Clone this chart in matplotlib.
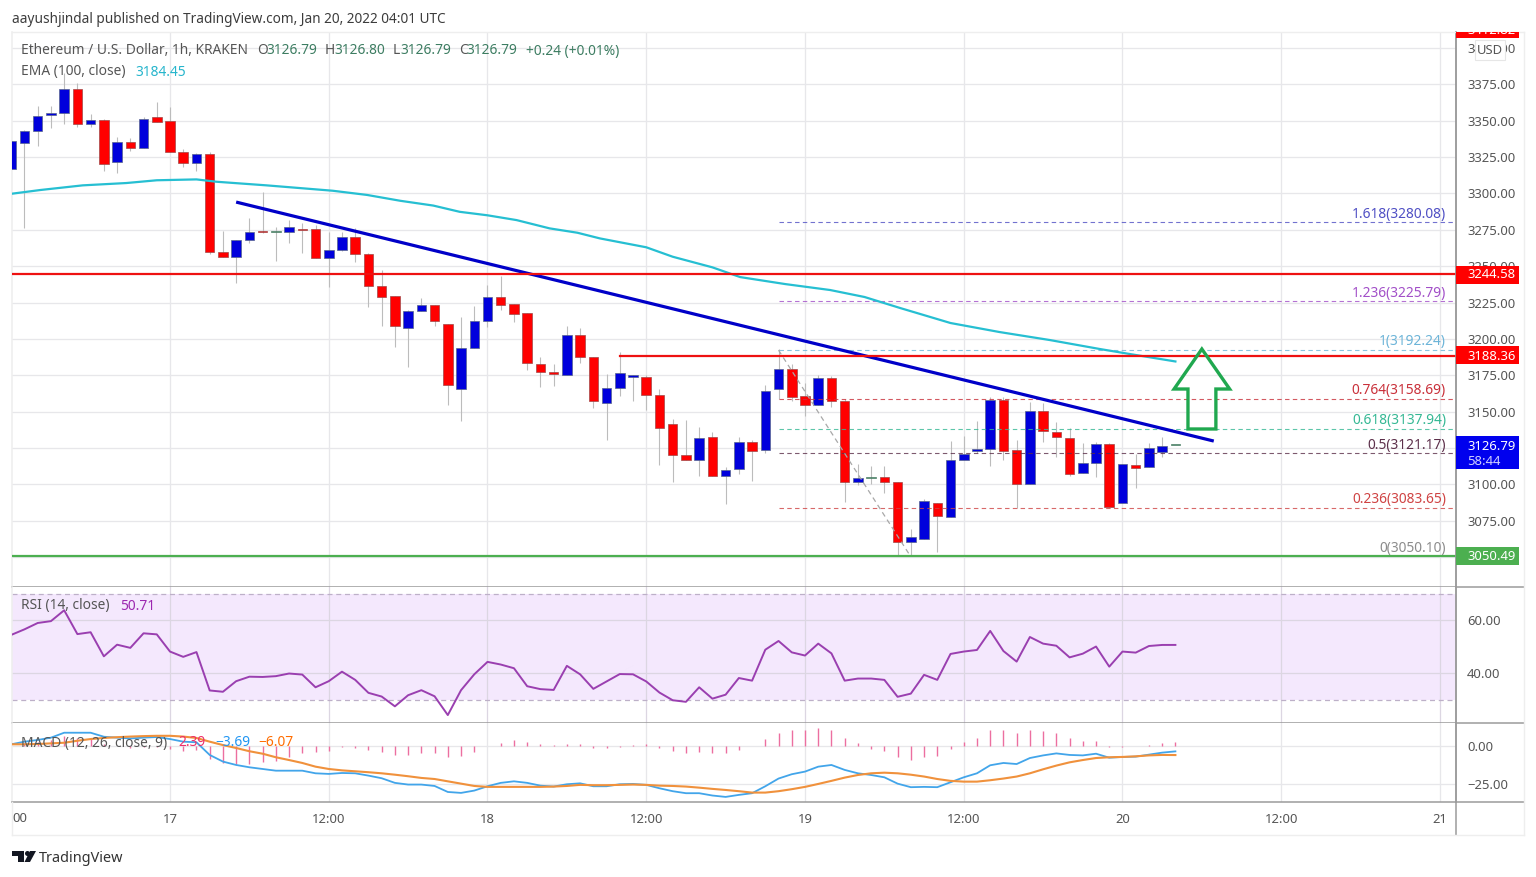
import matplotlib
matplotlib.use("Agg")
import matplotlib.pyplot as plt
from matplotlib.patches import Rectangle, Polygon, Circle

plt.rcParams['font.family'] = ['Noto Sans', 'DejaVu Sans']

# ---------- data ----------
HOURS = list(range(-12, 77))   # hours after 17 Jan 00:00
OPEN = [3317,3335,3343,3354,3355.5,3372,3348,3350.5,3321.5,3335.5,3331,3352.6,3350,3328.5,3321,3327,3259.7,3256.3,3268,3274.2,
        3273.6,3273.5,3275.6,3275.6,3255.6,3261.1,3270,3258.3,3236.3,3229.5,3207.4,3219.1,3223.3,3210.2,3165.5,3193.7,3212.3,3228.8,3224,3217.8,
        3182.7,3177.2,3175.1,3202.6,3187.5,3155.8,3166.2,3174,3173.7,3161.3,3141.4,3120.1,3116.6,3132.4,3105.6,3110.4,3129,3123.5,3165.5,3179.2,
        3160.7,3154.5,3173,3157.2,3101.5,3104.4,3104.9,3101.5,3060.2,3062.3,3087,3077.4,3116.6,3122.8,3124.2,3157.9,3123.5,3100.1,3150.3,3135.9,
        3131.8,3107.7,3114.6,3127.6,3087,3113.2,3111.8,3122.1,3126.79]
CLOSE = [3336,3343,3353,3355.5,3372,3348,3350.5,3320,3335.5,3331,3351,3349,3328.5,3321,3327,3259.7,3256.3,3268,3273.5,3273.5,
         3273.6,3276.9,3274.9,3255.6,3261.1,3270,3258.3,3236.3,3228.8,3208.8,3219.1,3223.3,3212.3,3168.2,3193.7,3212.3,3228.8,3223.3,3217.1,3183.4,
         3177.2,3175.8,3202.6,3187.5,3157.2,3166.2,3176.5,3175.1,3161.3,3138.6,3120.1,3116.6,3131.8,3105.6,3109.7,3129,3122.8,3164.1,3179.2,3160,
         3154.5,3173,3157.2,3101.5,3104.2,3104.4,3101.5,3060.2,3063.6,3088.4,3078.1,3116.6,3120.8,3124.2,3157.9,3122.8,3100.1,3150.3,3136.6,3132.4,
         3107,3114.6,3127.6,3084.3,3113.9,3111.1,3124.9,3126.3,3126.79]
HIGH = [3338,3344,3360,3360,3383,3376,3355,3351,3339,3338,3352.6,3363,3359.5,3330.6,3328,3328.5,3274.2,3268,3283.1,3301,
        3276.9,3281.7,3279.7,3278.3,3273.5,3273.5,3276.2,3259,3247.3,3229.5,3219.8,3228.1,3223.3,3210.2,3215,3222.6,3237,3243.2,3224,3217.8,
        3187.5,3182.7,3208.8,3207.4,3187.5,3175.8,3190.9,3175.1,3175.1,3165.5,3144.8,3144.1,3139.3,3135.9,3111.8,3132.4,3130.4,3168.2,3193,3182.7,
        3169.6,3175.1,3174.4,3158.6,3113.9,3112.5,3112.5,3101.5,3069.1,3089.8,3087,3129.7,3133.1,3143.5,3160,3160,3130.4,3156.5,3155.8,3142.8,
        3138.6,3128.3,3129,3128.3,3113.9,3120.8,3128.3,3132.4,3126.8]
LOW = [3316,3276.2,3333,3345,3348,3346,3346,3315.5,3314,3329,3331,3349,3328.5,3318,3315.5,3258.3,3256.3,3238.4,3265.9,3272.8,
       3253.5,3265.9,3259,3255.6,3235.6,3260.4,3252.8,3221.9,3208.8,3194.4,3180.6,3219.1,3208.8,3154.5,3143.5,3193.7,3208.1,3219.8,3211.6,3178.5,
       3166.8,3167.5,3175.1,3183.4,3152.4,3130.4,3160.7,3157.2,3151,3113.2,3101.5,3116.6,3105.6,3105.6,3086.4,3107,3102.2,3121.4,3158.6,3157.2,
       3146.9,3154.5,3153.1,3087.7,3099.4,3100.1,3093.9,3050.6,3050.6,3062.3,3053.3,3077.4,3116.6,3121.4,3112.5,3116.6,3083.6,3100.1,3129,3118.7,
       3105.6,3107.7,3104.9,3084.3,3087,3097.4,3111.8,3118.7,3126.79]

EMA_H = [-12,-9.8,-6.6,-3.3,-1,2,3.5,7.3,12.3,14.9,17.4,19.9,21.9,24,26.2,28.7,30.8,32.5,36,38,41,43.1,46.5,49.9,52.5,55.2,59,62.7,66.5,70.3,72.6,76]
EMA_V = [3299.8,3302.4,3305.6,3307.2,3309.1,3309.7,3308.1,3305.6,3301.9,3299,3295,3291.7,3287.4,3285,3281.7,3276,3273,3269.1,3263,3256.5,3249.2,3242.5,3237.7,3233.6,3228.8,3221.2,3210.9,3204.7,3199.2,3193,3189.5,3184.45]

RSI = [54.5,56.6,59,59.7,63.8,54.8,55.5,46.4,50.8,49.6,55.1,54.7,48.2,46.2,48,33.5,33,37,38.7,38.6,
       38.9,39.9,39.5,34.7,37,40.6,37.5,32.6,31.2,27.5,31.7,33.6,31.3,24.2,33.6,39.6,44.3,43.3,41.9,35.1,
       34,33.7,42.8,39.6,34.1,36.9,39.7,39.6,36.9,32.7,29.8,29.2,34.7,30.4,31.9,38.2,37.2,48.9,52.2,47.9,
       46.7,51.2,47.5,37.2,38,38,37.5,31.1,32.3,39.4,37.5,47.3,48.2,48.8,56,48.4,44.4,53.7,51.2,50.4,
       46,47.4,50.1,42.5,48.2,47.8,50.3,50.7,50.71]
MACD = [.9,2.6,3.7,5.2,8.4,8.4,8.4,5.8,5.2,4.7,5.2,5.6,4.3,2.6,2.2,-6,-10.3,-12.5,-14,-15.1,
        -16.2,-16.2,-16.2,-17.9,-18.3,-17.7,-17.9,-19.4,-21.1,-24.1,-25.2,-25.2,-26.1,-30,-30.6,-29.1,-26.3,-24.1,-23.1,-24.1,
        -25.9,-26.5,-25,-24.4,-26.3,-26.3,-25,-24.8,-25.4,-27.6,-29.5,-30.8,-30.8,-32.3,-33.2,-31.9,-30.8,-26.3,-21.3,-18.5,
        -16.8,-13.6,-12.5,-15.7,-17.9,-19,-20.5,-24.6,-26.9,-26.7,-26.9,-23.7,-20.5,-17.9,-12.7,-11.2,-11.9,-8,-6.3,-5,
        -6,-6.3,-5.2,-7.8,-7.3,-7.1,-5.8,-4.5,-3.69]
SIGNAL = [.9,.9,1.1,1.5,1.9,3.2,4.3,5,5.5,5.9,6.2,6.4,6.4,5.9,5,2.6,.4,-1.5,-3.6,-5.2,
          -7.5,-9.3,-11.2,-13.6,-15.1,-16,-16.6,-17.2,-17.9,-18.8,-19.8,-20.9,-21.6,-23.1,-24.6,-26.1,-26.7,-26.7,-26.7,-26.7,
          -26.7,-26.5,-26.1,-25.4,-25.6,-25.6,-25.4,-25.2,-25.4,-25.9,-26.1,-26.5,-27.2,-28,-28.7,-29.5,-30.4,-30.4,-29.5,-28.2,
          -26.7,-24.8,-22.8,-20.7,-19,-17.9,-17.5,-17.9,-18.8,-20,-21.6,-22.8,-23.3,-23.3,-22.4,-21.3,-20,-17.9,-15.3,-12.9,
          -10.8,-9.3,-8,-7.5,-7.3,-6.9,-6.3,-6,-6.07]
HIST = [0,1.7,2.6,3.7,6.5,5.2,4.1,.8,-.3,-1.2,-1,-.8,-2.1,-3.3,-2.8,-8.6,-11.4,-12,-12,-10.8,
        -9.7,-7.1,-5,-4.3,-3.2,-1.1,-1.7,-2.8,-3.9,-6,-5.8,-5,-5,-7.3,-6.5,-3.9,-.2,1.7,3.7,2.2,
        1.3,.4,1.3,.9,-1.3,-1.7,-.9,.6,.9,-1.3,-3.4,-5,-3.9,-5,-5,-2.8,-.2,4.3,8.2,9.9,
        10.3,11.4,10.3,5.2,1.5,-1.9,-3.2,-7.1,-9,-7.5,-6.7,-1.9,2.4,5.2,9.9,10.3,8.4,9.9,9.5,8.4,
        5.2,3.2,3.2,-.9,-.6,-.4,.6,1.5,2.39]

FIB_LEVELS = ["1.618","1.236","1","0.764","0.618","0.5","0.236","0"]
FIB_PRICES = [3280.08,3225.79,3192.24,3158.69,3137.94,3121.17,3083.65,3050.10]
FIB_COLORS = ['#4f4fc4','#a24fc8','#6cb4d8','#c9303a','#35b894','#5c2f4a','#cf4343','#8c8c8c']
TREND_H = [5, 78.9]
TREND_P = [3294.1, 3129.7]
FIB_SWING_H = [46, 56]
FIB_SWING_P = [3192.24, 3050.10]
ARROW_H = [78, 80.1, 79.06, 79.06, 76.95, 76.95, 75.9]
ARROW_P = [3193, 3165.5, 3165.5, 3138, 3138, 3165.5, 3165.5]
LEVEL_HIGH = 3244.58
LEVEL_MID = 3188.36
LEVEL_LOW = 3050.49
LAST = 3126.79

PRICE_TICKS = [3050 + 25 * i for i in range(15)]
RSI_TICKS = [60, 40]
MACD_TICKS = [0, -25]
TIME_TICKS = [0, 12, 24, 36, 48, 60, 72, 84, 96]
TIME_LABELS = ['17', '12:00', '18', '12:00', '19', '12:00', '20', '12:00', '21']

# ---------- layout (pixels) ----------
W, H = 1536, 877
L, R, RR = 12, 1456, 1524
T, B1, B2, B3, B4 = 32, 587, 723, 802, 835
XMIN, XMAX = (L - 170) / 13.229, (R - 170) / 13.229
PY0, PY1 = 3029.3, 3411.1

GRID = '#e7e7ea'
SEP = '#9b9b9b'
TXT = '#555555'
FS = 9.4
FSL = 9.9

fig = plt.figure(figsize=(W / 100, H / 100), dpi=100, facecolor='white')

def mk(l, t, r, b):
    return fig.add_axes([l / W, 1 - b / H, (r - l) / W, (b - t) / H])

ax = mk(L, T, R, B1)
ar = mk(L, B1, R, B2)
am = mk(L, B2, R, B3)

for a in (ax, ar, am):
    a.set_xlim(XMIN, XMAX)
    a.set_xticks(TIME_TICKS)
    a.grid(True, color=GRID, lw=0.95)
    a.set_axisbelow(True)
    a.yaxis.tick_right()
    a.tick_params(axis='both', length=0, labelsize=FS, labelcolor=TXT)
    a.tick_params(axis='y', pad=8)
    a.set_xticklabels([])
    for s in a.spines.values():
        s.set_color(SEP)
        s.set_linewidth(1.1)
    a.spines['left'].set_color('#eeeeee')
    a.spines['top'].set_visible(False)

# ---------- price panel ----------
ax.set_ylim(PY0, PY1)
ax.set_yticks(PRICE_TICKS)
ax.set_yticklabels([f'{p:.2f}' for p in PRICE_TICKS])

ax.vlines(HOURS, LOW, HIGH, color='#bcbcbc', lw=0.8, zorder=2)
for h, o, c in zip(HOURS, OPEN, CLOSE):
    if o == c or abs(o - c) < 0.3:
        col, edge = '#4d8268', '#4d8268'
    elif c > o:
        col, edge = '#0000dc', '#58648c'
    else:
        col, edge = '#ff0000', '#a04848'
    ax.bar(h, max(abs(c - o), 0.8), bottom=min(o, c), width=0.72, color=col,
           edgecolor=edge, linewidth=0.5, zorder=3)

for lev, p, col in zip(FIB_LEVELS, FIB_PRICES, FIB_COLORS):
    if lev != '0':
        ax.plot([FIB_SWING_H[0], XMAX], [p, p], color=col, lw=0.8, alpha=0.8, ls=(0, (4, 3)), zorder=4)
    ax.annotate(f'{lev}({p:.2f})', xy=(96.45, p), xytext=(0, 0.6), textcoords='offset points',
                ha='right', va='bottom', color=col, fontsize=FSL, zorder=7)
ax.plot(FIB_SWING_H, FIB_SWING_P, color='#a8a8a8', lw=0.9, ls=(0, (4, 3)), zorder=4)

ax.plot(EMA_H, EMA_V, color='#26bfd2', lw=1.6, zorder=5)
ax.plot(TREND_H, TREND_P, color='#0000c8', lw=2.3, zorder=6, solid_capstyle='butt')
ax.axhline(LEVEL_HIGH, color='#ee1111', lw=1.6, zorder=6)
ax.plot([34, XMAX], [LEVEL_MID, LEVEL_MID], color='#ee1111', lw=1.6, zorder=6)
ax.axhline(LEVEL_LOW, color='#4caf50', lw=1.6, zorder=6)
ax.add_patch(Polygon(list(zip(ARROW_H, ARROW_P)), closed=True, fill=False,
                     edgecolor='#20a84f', lw=2.4, joinstyle='miter', zorder=7))

# ---------- RSI panel ----------
ar.set_ylim(21.2, 72.6)
ar.set_yticks(RSI_TICKS)
ar.set_yticklabels([f'{v:.2f}' for v in RSI_TICKS])
ar.axhspan(30, 70, color='#f4e8fd', lw=0, zorder=0.5)
ar.grid(True, color='#dcd6e2', lw=0.9)
ar.axhline(70, color='#bdb0c8', lw=0.9, ls=(0, (4, 3)), zorder=1.5)
ar.axhline(30, color='#bdb0c8', lw=0.9, ls=(0, (4, 3)), zorder=1.5)
ar.plot(HOURS, RSI, color='#9a3fb0', lw=1.4, zorder=4)

# ---------- MACD panel ----------
am.set_ylim(-36.5, 14.7)
am.set_yticks(MACD_TICKS)
am.set_yticklabels(['0.00', '\u221225.00'])
am.vlines(HOURS, 0, HIST, color='#ec6fa0', lw=1.0, zorder=3)
am.plot(HOURS, MACD, color='#42a5ea', lw=1.3, zorder=4)
am.plot(HOURS, SIGNAL, color='#f0913c', lw=1.5, zorder=5)
am.set_xticklabels(TIME_LABELS)
am.tick_params(axis='x', pad=8)

# ---------- overlay in pixel coordinates ----------
ov = fig.add_axes([0, 0, 1, 1], facecolor='none')
ov.set_xlim(0, W)
ov.set_ylim(H, 0)
ov.axis('off')

def txt(x, y, s, color=TXT, size=FSL, **kw):
    kw.setdefault('ha', 'left')
    kw.setdefault('va', 'center')
    return ov.text(x, y, s, color=color, fontsize=size, **kw)

# frame of the chart
ov.plot([R, R], [T, B4], color=SEP, lw=1.1)
for y in (B1, B2, B3):
    ov.plot([R, RR], [y, y], color=SEP, lw=1.1)
ov.plot([L, RR], [T, T], color='#eeeeee', lw=1.0)
ov.plot([L, RR], [B4, B4], color='#eeeeee', lw=1.0)
ov.plot([RR, RR], [T, B4], color='#eeeeee', lw=1.0)
ov.plot([L, L], [B3, B4], color='#eeeeee', lw=1.0)

txt(12, 19.5, 'aayushjindal published on TradingView.com, Jan 20, 2022 04:01 UTC', color='#3c3c3c', size=9.8)
txt(21, 51, 'Ethereum / U.S. Dollar, 1h, KRAKEN')
GREENV = '#3d7d62'
for x, letter, val in [(257, 'O', '3126.79'), (325, 'H', '3126.80'), (393, 'L', '3126.79'), (459, 'C', '3126.79')]:
    txt(x, 51, letter)
    txt(x + (9 if letter in 'OH' else 7), 51, val, color=GREENV)
txt(526, 51, '+0.24 (+0.01%)', color=GREENV)
txt(21, 72, 'EMA (100, close)')
txt(135, 72, '3184.45', color='#26b5cc')
txt(21, 606, 'RSI (14, close)')
txt(120, 606, '50.71', color='#9c27b0')
txt(21, 743, 'MACD (12, 26, close, 9)')
txt(178, 743, '2.39', color='#ee2f6a')
txt(215, 743, '\u22123.69', color='#2196f3')
txt(258, 743, '\u22126.07', color='#ff6d00')
txt(12, 818, '00', size=FS)

# price tags
def tag(top, bottom, col):
    ov.add_patch(Rectangle((R, top), 63, bottom - top, color=col, lw=0, zorder=8))

tag(32, 38, '#ff0000')
top_txt = txt(1467, 30.5, '3412.82', color='white', size=FS, zorder=9)
top_txt.set_clip_path(Rectangle((R, T), 63, 6, transform=ov.transData))
tag(265.5, 283.5, '#ff0000')
txt(1467, 275, '3244.58', color='white', size=FS, zorder=9)
tag(346, 364, '#ff0000')
txt(1467, 356, '3188.36', color='white', size=FS, zorder=9)
tag(436, 469, '#0000ee')
txt(1467, 446, '3126.79', color='white', size=FS, zorder=9)
txt(1467, 461.5, '58:44', color='#d0d0ff', size=FS, zorder=9)
tag(547, 565, '#4caf50')
txt(1467, 556.5, '3050.49', color='white', size=FS, zorder=9)
ov.add_patch(Rectangle((1475, 40), 30, 20, facecolor='white', edgecolor='#e6e6e6', lw=0.8, zorder=9))
txt(1490, 50, 'USD', ha='center', size=FS, zorder=10)

# footer logo and wordmark
ov.add_patch(Polygon([(12, 851), (24, 851), (24, 862), (18, 862), (18, 856), (12, 856)], color='#131722', lw=0))
ov.add_patch(Circle((27.5, 853.5), 2.5, color='#131722', lw=0))
ov.add_patch(Polygon([(30, 851), (36, 851), (30, 862), (24.5, 862)], color='#131722', lw=0))
txt(39, 858, 'TradingView', color='#333333', size=10.4)

fig.savefig('out.png', dpi=100, facecolor='white')
